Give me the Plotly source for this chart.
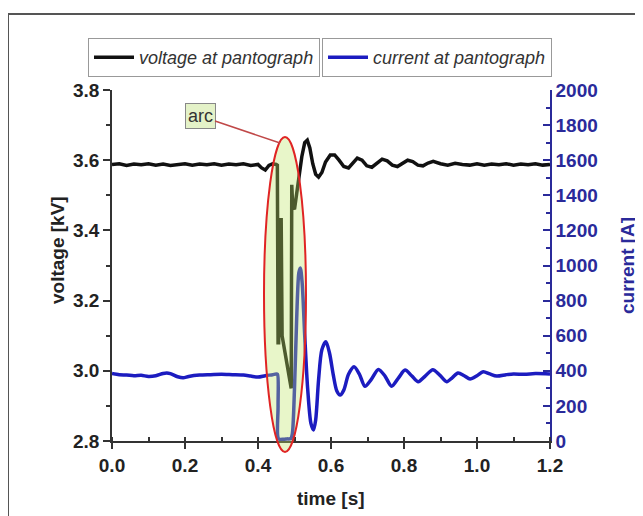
import plotly.graph_objects as go

# ---- data ----
t_volt = [0.00, 0.02, 0.04, 0.06, 0.08, 0.10, 0.12, 0.14, 0.16, 0.18, 0.20, 0.22, 0.24, 0.26,
          0.28, 0.30, 0.32, 0.34, 0.36, 0.38, 0.40, 0.41, 0.42, 0.43, 0.44, 0.45, 0.453,
          0.455, 0.4565, 0.462, 0.4635, 0.466, 0.491, 0.4925, 0.495,
          0.500, 0.505, 0.512, 0.520, 0.528, 0.535, 0.542, 0.550, 0.558, 0.566, 0.575,
          0.585, 0.598, 0.610, 0.622, 0.635, 0.648, 0.660, 0.672, 0.685, 0.698, 0.712,
          0.726, 0.740, 0.754, 0.768, 0.782, 0.796, 0.810, 0.824, 0.838, 0.852, 0.866,
          0.880, 0.90, 0.92, 0.94, 0.96, 0.98, 1.00, 1.02, 1.04, 1.06, 1.08, 1.10, 1.12,
          1.14, 1.16, 1.18, 1.20]
voltage_kv = [3.588, 3.590, 3.585, 3.589, 3.587, 3.590, 3.586, 3.589, 3.585, 3.588, 3.590,
              3.586, 3.589, 3.587, 3.590, 3.586, 3.589, 3.587, 3.590, 3.585, 3.588, 3.578,
              3.572, 3.585, 3.590, 3.588, 3.586,
              3.08, 3.08, 3.43, 3.43, 3.10, 2.95, 3.53, 3.47,
              3.46, 3.50, 3.55, 3.61, 3.65, 3.657, 3.635, 3.59, 3.56, 3.552, 3.565,
              3.595, 3.615, 3.615, 3.60, 3.582, 3.578, 3.592, 3.606, 3.600, 3.584, 3.580,
              3.592, 3.603, 3.598, 3.586, 3.582, 3.592, 3.600, 3.596, 3.586, 3.584, 3.592,
              3.597, 3.590, 3.586, 3.591, 3.588, 3.586, 3.590, 3.586, 3.589, 3.587, 3.590,
              3.586, 3.589, 3.587, 3.590, 3.586, 3.588]

t_curr = [0.00, 0.02, 0.04, 0.06, 0.08, 0.10, 0.12, 0.14, 0.15, 0.16, 0.18, 0.195, 0.21,
          0.24, 0.27, 0.30, 0.33, 0.36, 0.38, 0.40, 0.42, 0.44, 0.450, 0.4535, 0.455, 0.4565,
          0.470, 0.480, 0.490, 0.494, 0.500, 0.506, 0.512, 0.516, 0.521, 0.528, 0.536,
          0.545, 0.552, 0.558, 0.566, 0.575, 0.586, 0.596, 0.606, 0.616, 0.625, 0.635,
          0.648, 0.663, 0.678, 0.693, 0.710, 0.730, 0.748, 0.766, 0.785, 0.803, 0.821,
          0.839, 0.858, 0.879, 0.898, 0.917, 0.932, 0.948, 0.965, 0.981, 1.000, 1.017,
          1.035, 1.054, 1.08, 1.10, 1.13, 1.16, 1.20]
current_a = [385, 378, 376, 372, 374, 368, 372, 385, 388, 384, 366, 360, 368,
             376, 378, 380, 378, 376, 370, 364, 372, 378, 382, 380, 200, 12,
             10, 12, 14, 40, 300, 700, 960, 986, 900, 600, 300,
             100, 63, 120, 350, 520, 566, 500, 380, 285, 262, 290,
             380, 423, 380, 312, 350, 408, 370, 312, 360, 404, 372,
             338, 370, 406, 375, 338, 360, 387, 372, 353, 372, 395,
             382, 370, 378, 382, 380, 384, 382]

x_ticks = [0.0, 0.2, 0.4, 0.6, 0.8, 1.0, 1.2]
y_ticks = [2.8, 3.0, 3.2, 3.4, 3.6, 3.8]
y2_ticks = [0, 200, 400, 600, 800, 1000, 1200, 1400, 1600, 1800, 2000]

x_title = "time [s]"
y_title = "voltage [kV]"
y2_title = "current [A]"

BLUE = "#1c1cc0"
AXBLUE = "#2a2a9a"
FONT = "Liberation Sans"

fig = go.Figure()
fig.add_trace(go.Scatter(x=t_volt, y=voltage_kv, mode="lines", name="voltage at pantograph",
                         line=dict(color="#111111", width=3.5), legend="legend"))
fig.add_trace(go.Scatter(x=t_curr, y=current_a, mode="lines", name="current at pantograph",
                         line=dict(color=BLUE, width=3.5, shape="spline", smoothing=0.8),
                         yaxis="y2", legend="legend2"))

# the page body has an 8px margin, so the figure is laid out in page coords minus 8
OFF = 8
W, H = 635, 508
PW, PH = 438, 351
L = 112 - OFF
T = 90 - OFF
R = W - L - PW
B = H - T - PH


def px(xs):
    return (xs - OFF - L) / PW


def py(ys):
    return (H - B - (ys - OFF)) / PH


tickfont = dict(family=FONT, size=19, color="#222222", weight="bold")
legfont = dict(family=FONT, size=18, color="#333333", style="italic")
titlefont = dict(family=FONT, size=19, color="#222222", weight="bold")
fig.update_layout(
    width=W, height=H,
    margin=dict(l=L, r=R, t=T, b=B),
    paper_bgcolor="white", plot_bgcolor="white",
    font=dict(family=FONT),
    showlegend=True,
    xaxis=dict(range=[0, 1.2], tickvals=x_ticks, tickformat=".1f", showgrid=False, zeroline=False,
               showline=True, linecolor="#333333", linewidth=1.5, ticks="outside", ticklen=6,
               tickwidth=1.5, tickcolor="#333333", tickfont=tickfont,
               minor=dict(dtick=0.1, ticks="inside", ticklen=4, tickcolor="#333333", showgrid=False)),
    yaxis=dict(range=[2.8, 3.8], tickvals=y_ticks, tickformat=".1f", showgrid=False, zeroline=False,
               showline=True, linecolor="#333333", linewidth=1.5, ticks="outside", ticklen=7,
               tickwidth=1.5, tickcolor="#333333", tickfont=tickfont,
               minor=dict(dtick=0.1, ticks="outside", ticklen=4, tickcolor="#333333", showgrid=False)),
    yaxis2=dict(range=[0, 2000], tickvals=y2_ticks, overlaying="y", side="right", showgrid=False,
                zeroline=False, showline=True, linecolor=AXBLUE, linewidth=1.5, ticks="inside",
                ticklen=7, tickwidth=1.5, tickcolor=AXBLUE,
                tickfont=dict(family=FONT, size=19, color=AXBLUE, weight="bold"),
                minor=dict(dtick=100, ticks="inside", ticklen=4, tickcolor=AXBLUE, showgrid=False)),
    legend=dict(x=px(88), y=py(38), xanchor="left", yanchor="top", orientation="h", itemwidth=40,
                bgcolor="white", bordercolor="#999999", borderwidth=1, font=legfont),
    legend2=dict(x=px(322), y=py(38), xanchor="left", yanchor="top", orientation="h", itemwidth=40,
                 bgcolor="white", bordercolor="#999999", borderwidth=1, font=legfont, visible=True),
    shapes=[
        dict(type="rect", xref="paper", yref="paper", x0=px(8), x1=px(660), y0=py(540), y1=py(14),
             line=dict(color="#555555", width=2), fillcolor="rgba(0,0,0,0)", layer="below"),
        dict(type="circle", xref="paper", yref="paper", x0=px(264), x1=px(306), y0=py(452), y1=py(137),
             line=dict(color="#e02424", width=2), fillcolor="rgba(190,230,100,0.35)", layer="above"),
    ],
    annotations=[
        dict(text="arc", xref="paper", yref="paper", x=px(280), y=py(143), showarrow=True,
             ax=-80, ay=-27, arrowhead=0, arrowwidth=1.5, arrowcolor="#c04848", standoff=0,
             bgcolor="#e4f2c8", bordercolor="#888888", borderwidth=1, borderpad=2,
             font=dict(family=FONT, size=18, color="#333333")),
        dict(text=x_title, xref="paper", yref="paper", x=px(331), y=py(498), showarrow=False,
             xanchor="center", yanchor="middle", font=titlefont),
        dict(text=y_title, xref="paper", yref="paper", x=px(45), y=py(250), showarrow=False,
             xanchor="center", yanchor="middle", textangle=-90, xshift=12, font=titlefont),
        dict(text=y2_title, xref="paper", yref="paper", x=px(627), y=py(266), showarrow=False,
             xanchor="center", yanchor="middle", textangle=-90,
             font=dict(family=FONT, size=19, color=AXBLUE, weight="bold")),
    ],
)

fig.write_html("out.html")
